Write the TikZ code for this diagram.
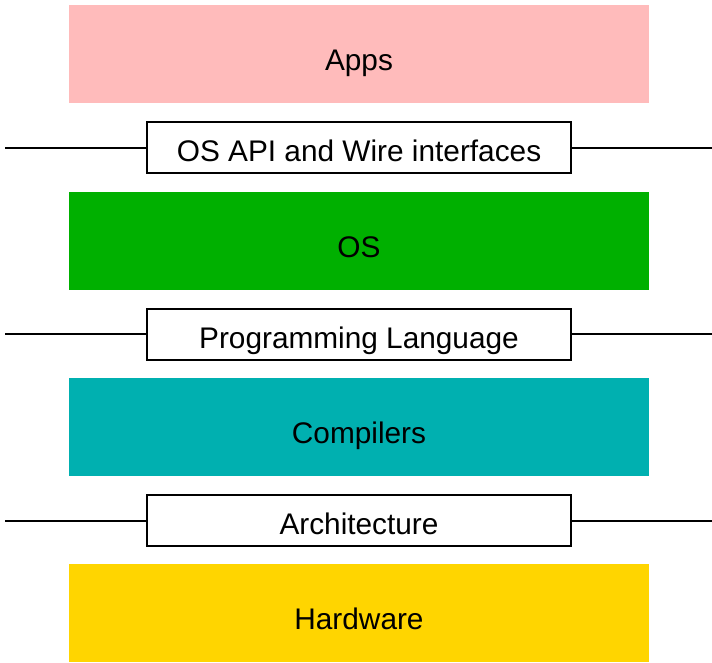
\documentclass[tikz,border=0pt]{standalone}
\usepackage{fontspec}
\setmainfont{Liberation Sans}
\definecolor{appscol}{HTML}{FFBBBB}
\definecolor{oscol}{HTML}{00B000}
\definecolor{compcol}{HTML}{00B0B0}
\definecolor{hwcol}{HTML}{FFD500}
\begin{document}
\begin{tikzpicture}[x=1pt,y=-1pt,
  layer/.style={rectangle, inner sep=0pt, minimum width=580pt, minimum height=98pt,
    text height=40pt, text depth=8pt, font=\fontsize{29.8}{34}\selectfont},
  iface/.style={rectangle, draw=black, line width=2pt, fill=white, inner sep=0pt,
    minimum width=424pt, minimum height=51pt,
    text height=36pt, text depth=8pt, font=\fontsize{29.8}{34}\selectfont},
  link/.style={draw=black, line width=2pt}]
\useasboundingbox (0,0) rectangle (712,662);
\node[layer, fill=appscol] (apps) at (359,54) {Apps};
\node[iface] (api) at (359,147.5) {OS API and Wire interfaces};
\node[layer, fill=oscol] (os) at (359,241) {OS};
\node[iface] (pl) at (359,334) {Programming Language};
\node[layer, fill=compcol] (comp) at (359,427) {Compilers};
\node[iface] (arch) at (359,520.5) {Architecture};
\node[layer, fill=hwcol] (hw) at (359,613) {Hardware};
\coordinate (apiL) at (5,147.5);
\coordinate (apiR) at (712,147.5);
\coordinate (plL) at (5,334);
\coordinate (plR) at (712,334);
\coordinate (archL) at (5,520.5);
\coordinate (archR) at (712,520.5);
\draw[link] (apiL) -- (api.west);
\draw[link] (api.east) -- (apiR);
\draw[link] (plL) -- (pl.west);
\draw[link] (pl.east) -- (plR);
\draw[link] (archL) -- (arch.west);
\draw[link] (arch.east) -- (archR);
\end{tikzpicture}
\end{document}
